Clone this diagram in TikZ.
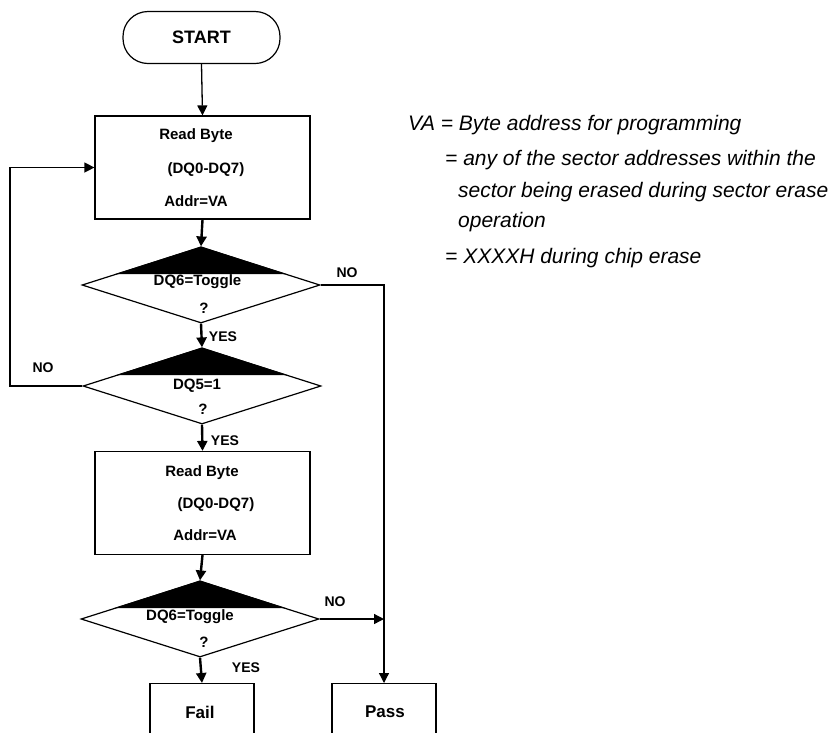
\documentclass[tikz,border=0pt]{standalone}
\usepackage{fontspec}
\setmainfont{Liberation Sans}
\usetikzlibrary{arrows.meta,shapes.geometric,calc}

\begin{document}
\begin{tikzpicture}[x=1pt,y=-1pt,
  every node/.style={font=\fontsize{15}{18}\selectfont\bfseries, inner sep=0pt},
  outline/.style={draw=black, line width=1.2pt},
  procbox/.style={outline, minimum width=215pt, minimum height=103pt},
  endbox/.style={outline, minimum width=104pt, minimum height=100pt, anchor=north},
  decision/.style={diamond, outline, minimum width=238pt, minimum height=76pt},
  terminal/.style={outline, rounded corners=25pt, minimum width=157pt, minimum height=52pt,
    font=\fontsize{18}{21}\selectfont\bfseries},
  tip/.style={-{Triangle[length=10pt,width=10pt]}},
  flow/.style={tip, line width=1.3pt},
  mainflow/.style={tip, line width=2.4pt},
  tag/.style={font=\fontsize{14}{16}\selectfont\bfseries},
  endtext/.style={font=\fontsize{17}{20}\selectfont\bfseries},
  note/.style={anchor=west, font=\fontsize{21}{25}\selectfont\itshape},
]
\useasboundingbox (0,0) rectangle (840,732);
\clip (0,0) rectangle (840,732);
\fill[white] (0,0) rectangle (840,732);

% shapes of the flow
\node[terminal] (start) at (201.5,37.5) {START};
\node[procbox] (read1) at (202.5,167.5) {};
\node[decision] (tog1) at (201,285) {};
\node[decision] (dq5) at (202,386) {};
\node[procbox] (read2) at (202.5,503) {};
\node[decision] (tog2) at (200,619) {};
\node[endbox] (fail) at (202,683) {};
\node[endbox] (pass) at (384,683) {};

% dark upper caps of the decisions
\foreach \d in {tog1,dq5,tog2}{
  \fill ($(\d.north)!0.72!(\d.west)$) -- (\d.north) -- ($(\d.north)!0.72!(\d.east)$) -- cycle;
}

% texts in the shapes
\node (r1a) at (196,136) {Read Byte};
\node (r1b) at (206,170) {(DQ0-DQ7)};
\node (r1c) at (196,201) {Addr=VA};
\node (t1a) at (197.5,282) {DQ6=Toggle};
\node (t1b) at (204,308) {?};
\node (q5a) at (197,386) {DQ5=1};
\node (q5b) at (203,409) {?};
\node (r2a) at (202,473) {Read Byte};
\node (r2b) at (216,505) {(DQ0-DQ7)};
\node (r2c) at (205,535) {Addr=VA};
\node (t2a) at (190,617) {DQ6=Toggle};
\node (t2b) at (204,642) {?};
\node[endtext] (failtxt) at (200,712) {Fail};
\node[endtext] (passtxt) at (385,712) {Pass};

% connectors
\draw[flow] (start.south) -- (read1.north);
\draw[mainflow] (read1.south) -- (tog1.north);
\draw[mainflow] (tog1.south) -- (dq5.north);
\draw[mainflow] (dq5.south) -- (read2.north);
\draw[mainflow] (read2.south) -- (tog2.north);
\draw[mainflow] (tog2.south) -- (fail.north);
\draw[flow] (tog1.east) -| (pass.north);
\draw[flow] (tog2.east) -- (tog2.east -| pass.north);
\coordinate (loopx) at (10,0);
\draw[flow] (dq5.west) -| (loopx |- read1.west) -- (read1.west);

% branch labels
\node[tag] (yes1) at (223,337) {YES};
\node[tag] (yes2) at (225,441) {YES};
\node[tag] (yes3) at (246,668) {YES};
\node[tag] (no1) at (347,273) {NO};
\node[tag] (no2) at (43,368) {NO};
\node[tag] (no3) at (335,602) {NO};

% side note
\node[note] (va1) at (408,125) {VA = Byte address for programming};
\node[note] (va2) at (445,160) {= any of the sector addresses within the};
\node[note] (va3) at (458,192) {sector being erased during sector erase};
\node[note] (va4) at (458,222) {operation};
\node[note] (va5) at (445,258) {= XXXXH during chip erase};
\end{tikzpicture}
\end{document}
